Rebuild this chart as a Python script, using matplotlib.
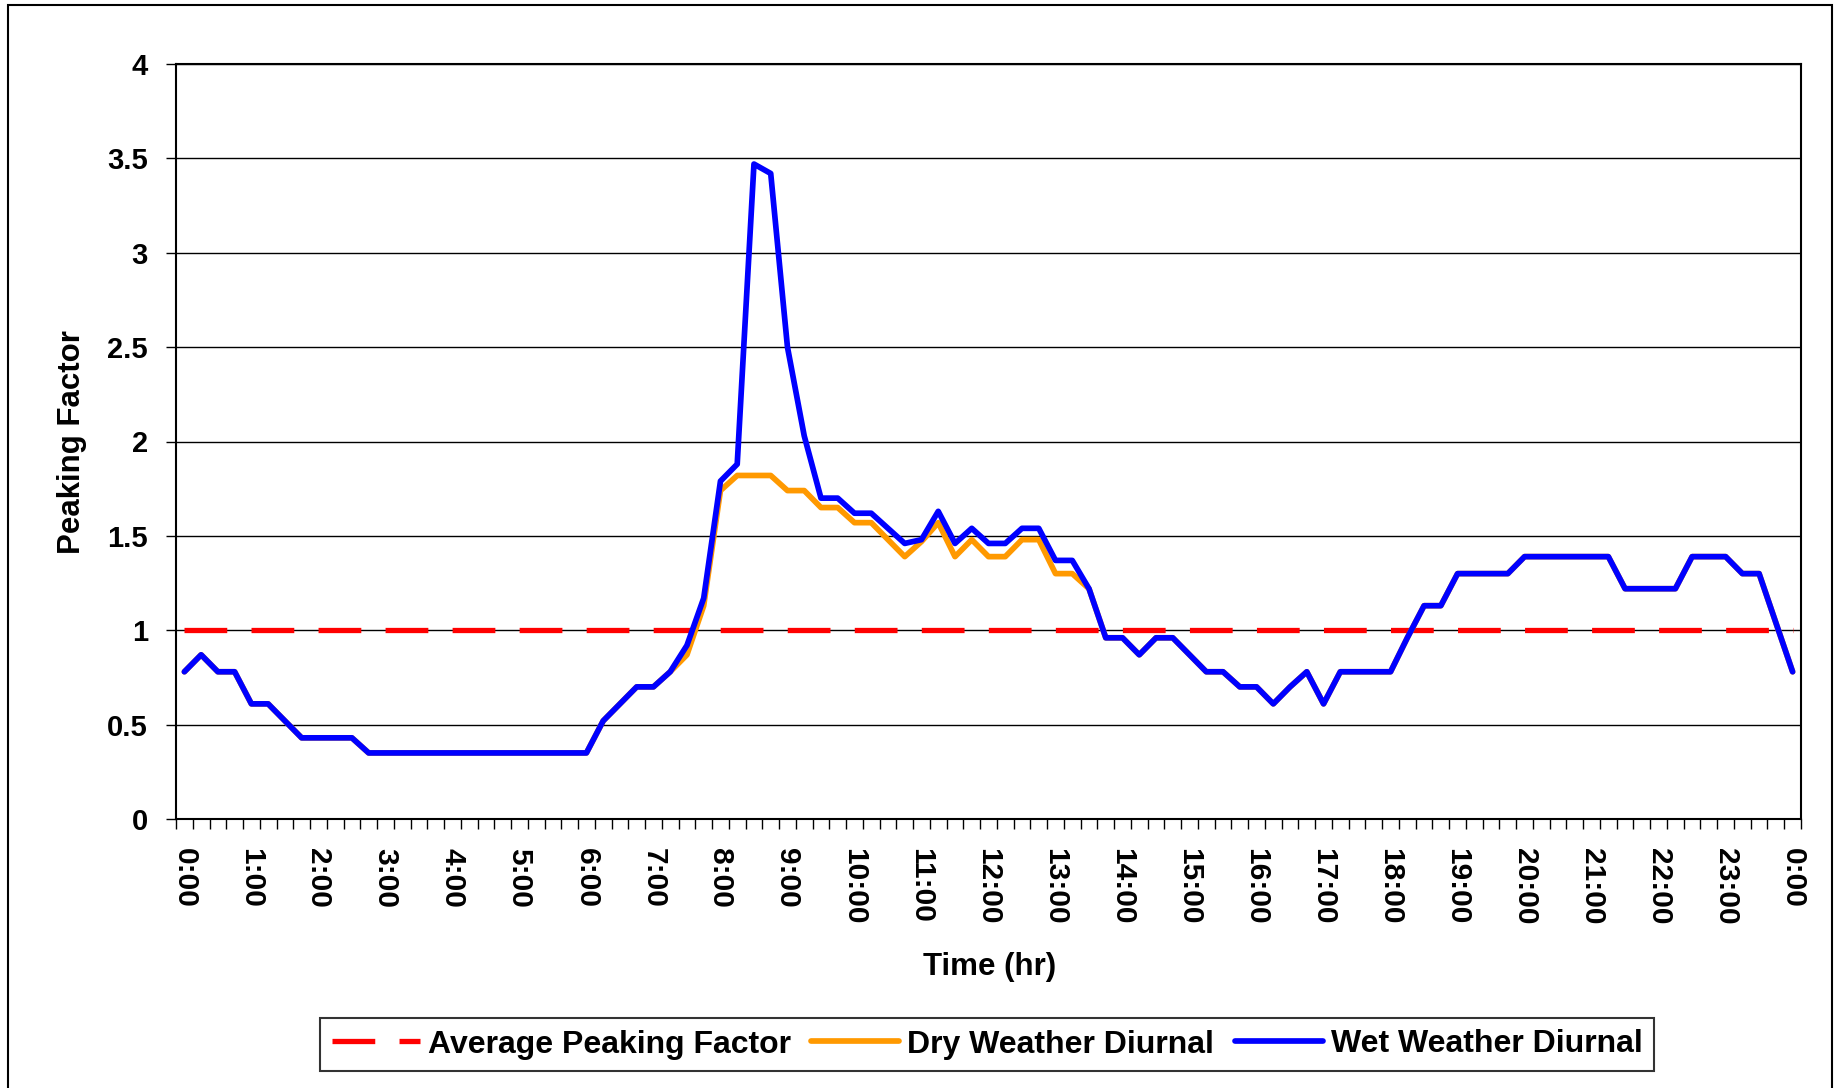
import matplotlib
matplotlib.use("Agg")
import matplotlib.pyplot as plt
from matplotlib.patches import Rectangle
import numpy as np

# ---- data (15-minute intervals, 0:00 -> 24:00) ----
average_pf = [1.0] * 97

wet_weather = [0.78, 0.87, 0.78, 0.78, 0.61, 0.61, 0.52, 0.43, 0.43, 0.43,
               0.43, 0.35, 0.35, 0.35, 0.35, 0.35, 0.35, 0.35, 0.35, 0.35,
               0.35, 0.35, 0.35, 0.35, 0.35, 0.52, 0.61, 0.70, 0.70, 0.78,
               0.92, 1.17, 1.79, 1.88, 3.47, 3.42, 2.50, 2.03, 1.70, 1.70,
               1.62, 1.62, 1.54, 1.46, 1.48, 1.63, 1.46, 1.54, 1.46, 1.46,
               1.54, 1.54, 1.37, 1.37, 1.22, 0.96, 0.96, 0.87, 0.96, 0.96,
               0.87, 0.78, 0.78, 0.70, 0.70, 0.61, 0.70, 0.78, 0.61, 0.78,
               0.78, 0.78, 0.78, 0.96, 1.13, 1.13, 1.30, 1.30, 1.30, 1.30,
               1.39, 1.39, 1.39, 1.39, 1.39, 1.39, 1.22, 1.22, 1.22, 1.22,
               1.39, 1.39, 1.39, 1.30, 1.30, 1.04, 0.78]

dry_weather = [0.78, 0.87, 0.78, 0.78, 0.61, 0.61, 0.52, 0.43, 0.43, 0.43,
               0.43, 0.35, 0.35, 0.35, 0.35, 0.35, 0.35, 0.35, 0.35, 0.35,
               0.35, 0.35, 0.35, 0.35, 0.35, 0.52, 0.61, 0.70, 0.70, 0.78,
               0.87, 1.13, 1.74, 1.82, 1.82, 1.82, 1.74, 1.74, 1.65, 1.65,
               1.57, 1.57, 1.48, 1.39, 1.47, 1.57, 1.39, 1.48, 1.39, 1.39,
               1.48, 1.48, 1.30, 1.30, 1.22, 0.96, 0.96, 0.87, 0.96, 0.96,
               0.87, 0.78, 0.78, 0.70, 0.70, 0.61, 0.70, 0.78, 0.61, 0.78,
               0.78, 0.78, 0.78, 0.96, 1.13, 1.13, 1.30, 1.30, 1.30, 1.30,
               1.39, 1.39, 1.39, 1.39, 1.39, 1.39, 1.22, 1.22, 1.22, 1.22,
               1.39, 1.39, 1.39, 1.30, 1.30, 1.04, 0.78]

hour_labels = ["0:00", "1:00", "2:00", "3:00", "4:00", "5:00", "6:00", "7:00",
               "8:00", "9:00", "10:00", "11:00", "12:00", "13:00", "14:00",
               "15:00", "16:00", "17:00", "18:00", "19:00", "20:00", "21:00",
               "22:00", "23:00", "0:00"]
y_ticks = [0, 0.5, 1, 1.5, 2, 2.5, 3, 3.5, 4]
y_tick_labels = ["0", "0.5", "1", "1.5", "2", "2.5", "3", "3.5", "4"]

FONT = "Liberation Sans"
plt.rcParams["font.family"] = [FONT, "DejaVu Sans"]
plt.rcParams["font.weight"] = "bold"

W, H = 1835, 1088
fig = plt.figure(figsize=(W / 100, H / 100), dpi=100)
fig.patch.set_facecolor("white")

# axes placement (pixel coordinates of the reference)
left, right, top, bottom = 176, 1801, 64, 819
ax = fig.add_axes([left / W, 1 - bottom / H, (right - left) / W, (bottom - top) / H])

x = np.arange(len(wet_weather))

ax.plot(x, average_pf, color="#FF0000", lw=3.8, dashes=(8.1, 4.6),
        dash_capstyle="butt", label="Average Peaking Factor", zorder=3)
ax.plot(x, dry_weather, color="#FF9900", lw=4.1, solid_joinstyle="round",
        solid_capstyle="round", label="Dry Weather Diurnal", zorder=4)
ax.plot(x, wet_weather, color="#0000FF", lw=4.1, solid_joinstyle="round",
        solid_capstyle="round", label="Wet Weather Diurnal", zorder=5)

ax.set_xlim(-0.5, len(wet_weather) - 0.5)
ax.set_ylim(0, 4)

# y axis
ax.set_yticks(y_ticks)
ax.set_yticklabels(y_tick_labels, fontsize=21, fontweight="bold")
ax.tick_params(axis="y", which="major", direction="out", length=7.2, width=1.0,
               pad=13, colors="black")
ax.yaxis.grid(True, color="black", lw=1.0)
ax.set_axisbelow(True)

# x axis: labels every hour, tick marks at every 15-min boundary
ax.set_xticks(x[::4])
ax.set_xticklabels(hour_labels, rotation=-90, fontsize=21.5, fontweight="bold")
ax.set_xticks(np.arange(-0.5, len(wet_weather), 1.0), minor=True)
ax.tick_params(axis="x", which="major", length=0, pad=21)
ax.tick_params(axis="x", which="minor", direction="out", length=7.2, width=1.0)
for lbl in ax.get_xticklabels():
    lbl.set_va("top")
    lbl.set_ha("center")

for sp in ax.spines.values():
    sp.set_linewidth(1.5)
    sp.set_color("black")

# axis titles
fig.text(990 / W, 1 - 967 / H, "Time (hr)", ha="center", va="center",
         fontsize=22.5, fontweight="bold")
fig.text(72 / W, 1 - 442 / H, "Peaking Factor", ha="center", va="center",
         rotation=90, fontsize=22.5, fontweight="bold")

# legend
leg = fig.legend(loc="center", bbox_to_anchor=(987 / W, 1 - 1044.5 / H), ncol=3,
                 frameon=True, fancybox=False, edgecolor="black",
                 prop={"family": FONT, "weight": "bold", "size": 23},
                 handlelength=2.75, handletextpad=0.25, columnspacing=0.65,
                 borderpad=0.35, borderaxespad=0)
leg.get_frame().set_linewidth(1.5)

# outer chart border
fig.patches.append(Rectangle((8 / W, -0.02), (1832 - 8) / W, 1.02 - 5 / H,
                             transform=fig.transFigure, fill=False,
                             edgecolor="black", lw=1.5))

fig.savefig("out.png", dpi=100, facecolor="white")
